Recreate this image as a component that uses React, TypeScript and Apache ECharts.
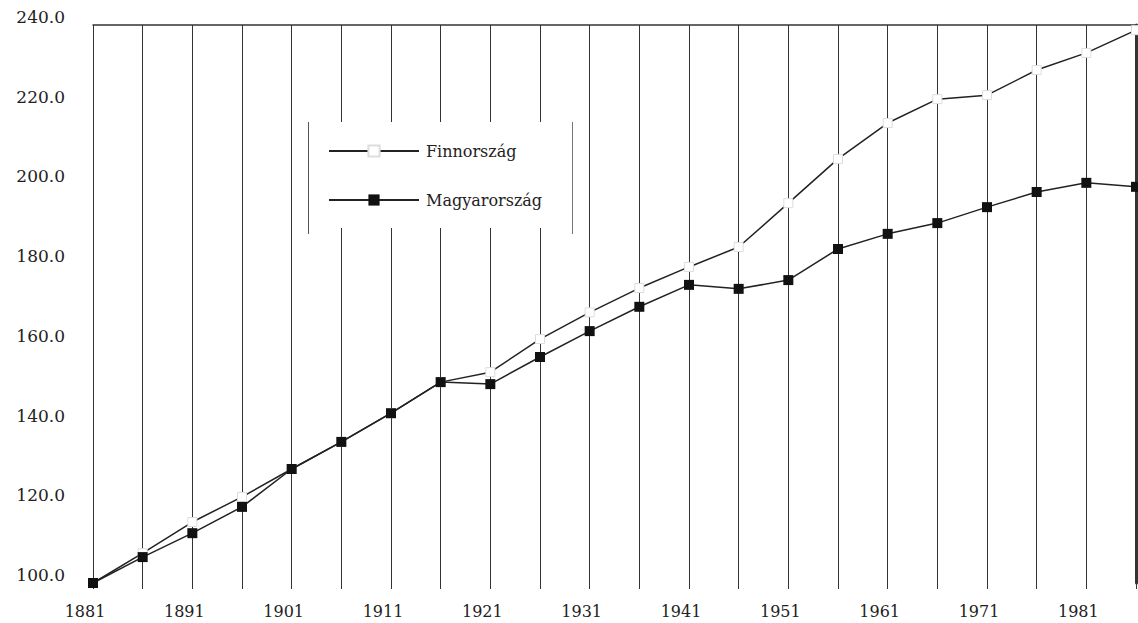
import React, { useEffect, useRef } from "react";
import * as echarts from "echarts";

const years = ["1881", "1886", "1891", "1896", "1901", "1906", "1911", "1916", "1921", "1926", "1931", "1936", "1941", "1946", "1951", "1956", "1961", "1966", "1971", "1976", "1981", "1986"];
const finland = [100, 107.5, 115.3, 121.6, 128.6, 135.4, 142.6, 150.4, 152.9, 161.2, 167.9, 174.0, 179.3, 184.3, 195.3, 206.4, 215.4, 221.4, 222.4, 228.7, 233.0, 238.7];
const hungary = [100, 106.5, 112.5, 119.1, 128.6, 135.4, 142.6, 150.4, 149.9, 156.7, 163.2, 169.3, 174.8, 173.8, 176.0, 183.8, 187.6, 190.3, 194.3, 198.1, 200.4, 199.4];
const seriesNames = ["Finnország", "Magyarország"];

const FONT = "'DejaVu Serif', 'Liberation Serif', serif";
const INK = "#222";

export default function App() {
  const ref = useRef<HTMLDivElement>(null);
  useEffect(() => {
    if (!ref.current) return;
    const chart = echarts.init(ref.current, undefined, { renderer: "svg" });
    chart.setOption({
      animation: false,
      backgroundColor: "#fff",
      grid: { left: 93, right: 2, top: 25, bottom: 40 },
      legend: {
        orient: "vertical",
        left: 308,
        top: 122,
        padding: [21, 14, 20, 20],
        itemGap: 33,
        itemWidth: 90,
        itemHeight: 14,
        backgroundColor: "#fff",
        borderWidth: 0,
        textStyle: { fontFamily: FONT, fontSize: 16, color: INK, padding: [0, 0, 0, 2] },
        data: seriesNames,
      },
      graphic: [
        { type: "line", shape: { x1: 308.5, y1: 122, x2: 308.5, y2: 234 }, style: { stroke: "#555", lineWidth: 1 }, z: 100 },
        { type: "line", shape: { x1: 572.5, y1: 122, x2: 572.5, y2: 234 }, style: { stroke: "#777", lineWidth: 1 }, z: 100 },
      ],
      xAxis: [
        {
          type: "category",
          data: years,
          boundaryGap: false,
          axisLine: { show: false },
          axisTick: { show: true, interval: 0, length: 6, lineStyle: { color: "#333" } },
          axisLabel: {
            interval: 1,
            margin: 20,
            fontFamily: FONT,
            fontSize: 16,
            color: INK,
            padding: [0, 16, 0, 0],
          },
          splitLine: { show: true, interval: 0, lineStyle: { color: "#333", width: 1 } },
        },
        {
          type: "category",
          data: years,
          boundaryGap: false,
          position: "top",
          axisLine: { show: true, lineStyle: { color: "#333", width: 1.5 } },
          axisTick: { show: false },
          axisLabel: { show: false },
          splitLine: { show: false },
        },
      ],
      yAxis: [
        {
          type: "value",
          min: 100,
          max: 240,
          interval: 20,
          axisLine: { show: false },
          axisTick: { show: false },
          splitLine: { show: false },
          axisLabel: {
            margin: 28,
            fontFamily: FONT,
            fontSize: 17,
            color: INK,
            verticalAlign: "bottom",
            lineHeight: 16,
            formatter: (v: number) => v.toFixed(1),
          },
        },
        {
          type: "value",
          min: 100,
          max: 240,
          interval: 20,
          position: "right",
          axisLine: { show: true, lineStyle: { color: "#333", width: 3 } },
          axisTick: { show: false },
          axisLabel: { show: false },
          splitLine: { show: false },
        },
      ],
      series: [
        {
          name: seriesNames[0],
          type: "line",
          data: finland,
          xAxisIndex: 0,
          yAxisIndex: 0,
          symbol: "rect",
          symbolSize: 9,
          lineStyle: { color: INK, width: 1.5 },
          itemStyle: { color: "#fff", borderColor: "#ddd", borderWidth: 1 },
          z: 3,
        },
        {
          name: seriesNames[1],
          type: "line",
          data: hungary,
          xAxisIndex: 0,
          yAxisIndex: 0,
          symbol: "rect",
          symbolSize: 10,
          lineStyle: { color: INK, width: 1.5 },
          itemStyle: { color: "#111", borderColor: "#111", borderWidth: 0 },
          z: 4,
        },
      ],
    });
    return () => chart.dispose();
  }, []);
  return (
    <div
      ref={ref}
      style={{ position: "fixed", left: 0, top: 0, width: 1138, height: 623, background: "#fff" }}
    />
  );
}
